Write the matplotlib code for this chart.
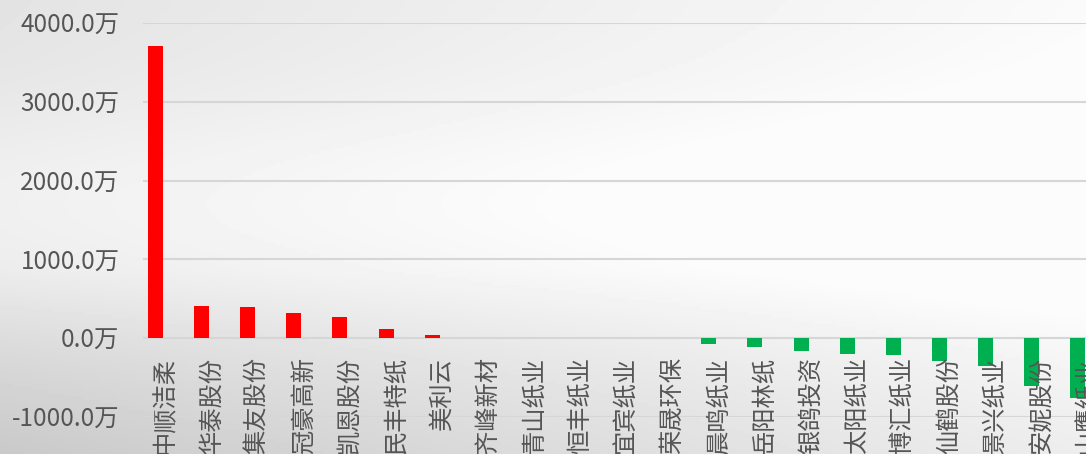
import numpy as np
import matplotlib
matplotlib.use('Agg')
from matplotlib import pyplot as plt
from matplotlib.transforms import blended_transform_factory

plt.rcParams['font.family'] = ['Noto Sans CJK SC', 'DejaVu Sans']

# 数据（单位：万）
names = ['中顺洁柔', '华泰股份', '集友股份', '冠豪高新', '凯恩股份', '民丰特纸', '美利云',
         '齐峰新材', '青山纸业', '恒丰纸业', '宜宾纸业', '荣晟环保', '晨鸣纸业', '岳阳林纸',
         '银鸽投资', '太阳纸业', '博汇纸业', '仙鹤股份', '景兴纸业', '安妮股份', '山鹰纸业']
values = [3710, 410, 394, 321, 275, 114, 42,
          0, 0, 0, 0, 0, -76, -114,
          -161, -196, -212, -292, -348, -602, -755]
yticks = [-1000, 0, 1000, 2000, 3000, 4000]

fig = plt.figure(figsize=(10.86, 4.54), dpi=100)

# 背景（灰色渐变）
bg = fig.add_axes([0, 0, 1, 1], zorder=-1)
xx, yy = np.meshgrid(np.linspace(0, 1, 300), np.linspace(0, 1, 150))
shade = 0.89 + 0.09 * xx + 0.05 * np.exp(-((yy - 0.45) / 0.25) ** 2)
shade = shade - 0.10 * np.clip((yy - 0.6) / 0.4, 0, 1) * (1 - 0.5 * xx)
shade = np.clip(shade, 0, 0.985)
bg.imshow(shade, cmap='gray', vmin=0, vmax=1, aspect='auto', extent=[0, 1, 1, 0])
bg.axis('off')

ax = fig.add_axes([143 / 1086, 37 / 454, 1 - 143 / 1086, 394 / 454])
ax.patch.set_alpha(0)
x = np.arange(len(names))
colors = ['#ff0000' if v >= 0 else '#00b050' for v in values]
ax.bar(x, values, width=0.325, color=colors, zorder=3)

ax.set_ylim(-1000, 4000)
ax.set_xlim(-0.27, 20.18)
ax.set_yticks(yticks)
ax.set_yticklabels(['%.1f万' % t for t in yticks], fontsize=17.5, color='#555555')
ax.tick_params(axis='y', length=0, pad=17)
ax.set_xticks([])
ax.grid(axis='y', color='#d6d6d6', linewidth=1.5, zorder=0)
for s in ax.spines.values():
    s.set_visible(False)

# 横轴标签（竖排）
trans = blended_transform_factory(ax.transData, ax.transData)
for i, n in enumerate(names):
    ax.annotate(n, (i + 0.21, 0), xycoords=trans, xytext=(0, -19), textcoords='offset pixels',
                rotation=90, ha='center', va='top', fontsize=17.5, color='#555555',
                annotation_clip=False)

plt.savefig('out.png', dpi=100)
